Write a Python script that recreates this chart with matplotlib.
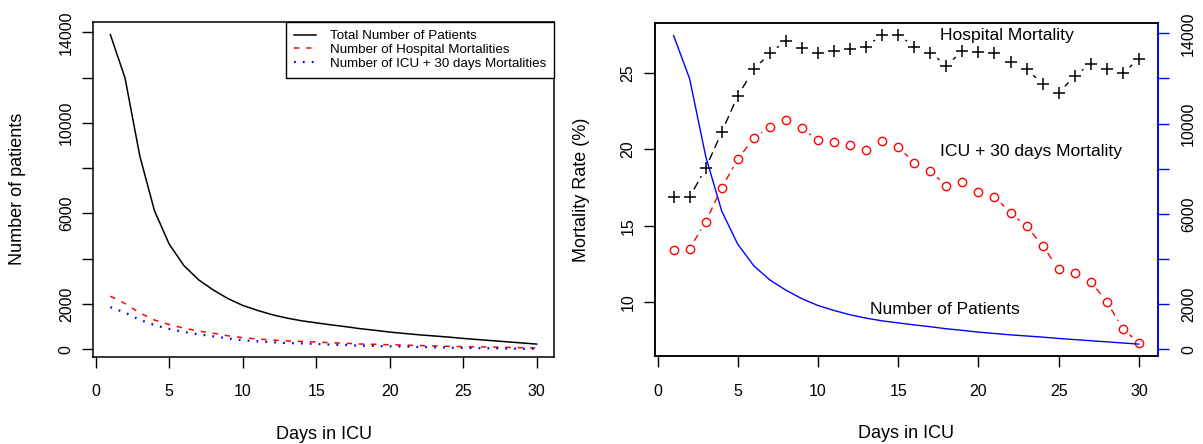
import numpy as np
import matplotlib
matplotlib.use("Agg")
import matplotlib.pyplot as plt

plt.rcParams['font.family'] = ['Liberation Sans', 'DejaVu Sans']

days = list(range(1, 31))
total_patients = [13900, 11980, 8550, 6120, 4650, 3700, 3070, 2620, 2240, 1940,
                  1720, 1530, 1380, 1260, 1170, 1080, 1000, 910, 840, 760,
                  700, 640, 590, 540, 480, 430, 380, 330, 280, 230]
hosp_rate = [16.87, 16.87, 18.77, 21.15, 23.53, 25.26, 26.31, 27.14, 26.64, 26.36,
             26.49, 26.60, 26.75, 27.54, 27.54, 26.75, 26.36, 25.50, 26.47, 26.38,
             26.31, 25.77, 25.28, 24.30, 23.71, 24.83, 25.61, 25.26, 25.00, 25.96]
icu_rate = [13.39, 13.50, 15.25, 17.50, 19.36, 20.76, 21.46, 21.94, 21.39, 20.60,
            20.50, 20.28, 19.99, 20.58, 20.17, 19.12, 18.57, 17.61, 17.87, 17.22,
            16.91, 15.84, 14.96, 13.69, 12.14, 11.88, 11.33, 10.00, 8.25, 7.29]

days = np.array(days)
total = np.array(total_patients, dtype=float)
hosp_counts = total * np.array(hosp_rate) / 100.0
icu_counts = total * np.array(icu_rate) / 100.0

W, H = 1203, 444
DPI = 100
fig = plt.figure(figsize=(W / DPI, H / DPI), dpi=DPI)

def box(l, t, r, b):
    return [l / W, 1 - b / H, (r - l) / W, (b - t) / H]

TICK = 11.5
LAB = 13

# ---------------- Left panel ----------------
ax1 = fig.add_axes(box(93.3, 22, 554, 356.7))
ax1.plot(days, total, color='black', lw=1.1, label='Total Number of Patients')
ax1.plot(days, hosp_counts, color='red', lw=1.1, linestyle=(0, (3.5, 4.5)),
         label='Number of Hospital Mortalities')
ax1.plot(days, icu_counts, color='blue', lw=1.6, linestyle=(0, (0.8, 3.2)),
         label='Number of ICU + 30 days Mortalities')
ax1.set_xlim(-0.16, 31.18)
ax1.set_ylim(-327, 14456)
ax1.set_xticks([0, 5, 10, 15, 20, 25, 30])
ax1.set_yticks(range(0, 14001, 2000))
ax1.set_yticklabels(['0', '2000', '', '6000', '', '10000', '', '14000'])
ax1.tick_params(axis='y', labelrotation=90, length=8, width=1, pad=6, labelsize=TICK)
ax1.tick_params(axis='x', length=8, width=1, pad=12, labelsize=TICK)
for lbl in ax1.get_yticklabels():
    lbl.set_va('center')
ax1.set_xlabel('Days in ICU', fontsize=LAB, labelpad=19)
ax1.set_ylabel('Number of patients', fontsize=LAB, labelpad=24)
for s in ax1.spines.values():
    s.set_linewidth(1.1)
leg = ax1.legend(loc='upper right', borderaxespad=0, fancybox=False,
                 edgecolor='black', framealpha=1, fontsize=9.6,
                 handlelength=1.65, handletextpad=1.05, labelspacing=0.1,
                 borderpad=0.6)
leg.get_frame().set_linewidth(1.0)

# ---------------- Right panel ----------------
ax2 = fig.add_axes(box(655, 22.7, 1157.5, 356.3))
ax2.set_xlim(-0.16, 31.16)
ax2.set_ylim(6.43, 28.32)
ax3 = ax2.twinx()
ax3.set_ylim(-310, 14470)
ax3.plot(days, total, color='blue', lw=1.0)

fig.canvas.draw()

def type_b(ax, x, y, gap_px, **kw):
    pts = ax.transData.transform(np.column_stack([x, y]))
    inv = ax.transData.inverted()
    for p, q in zip(pts[:-1], pts[1:]):
        d = q - p
        L = np.hypot(*d)
        if L <= 2 * gap_px + 1:
            continue
        u = d / L
        a = inv.transform(p + u * gap_px)
        b = inv.transform(q - u * gap_px)
        ax.plot([a[0], b[0]], [a[1], b[1]], **kw)

ax2.plot(days, hosp_rate, linestyle='none', marker='+', color='black',
         markersize=8, markeredgewidth=1.1)
type_b(ax2, days, hosp_rate, 9.0, color='black', lw=1.0, linestyle=(0, (6, 3.5)))
ax2.plot(days, icu_rate, linestyle='none', marker='o', markerfacecolor='none',
         markeredgecolor='red', markersize=6, markeredgewidth=1.0)
type_b(ax2, days, icu_rate, 9.0, color='red', lw=1.0, linestyle=(0, (5, 3.5)))

ax2.text(21.8, 27.45, 'Hospital Mortality', fontsize=12.6, ha='center', va='center')
ax2.text(23.3, 19.86, 'ICU + 30 days Mortality', fontsize=12.6, ha='center', va='center')
ax2.text(17.9, 9.53, 'Number of Patients', fontsize=12.6, ha='center', va='center')

ax2.set_xticks([0, 5, 10, 15, 20, 25, 30])
ax2.set_yticks([10, 15, 20, 25])
ax2.tick_params(axis='y', labelrotation=90, length=8, width=1, pad=6, labelsize=TICK)
ax2.tick_params(axis='x', length=8, width=1, pad=12, labelsize=TICK)
for lbl in ax2.get_yticklabels():
    lbl.set_va('center')
ax2.set_xlabel('Days in ICU', fontsize=LAB, labelpad=19)
ax2.set_ylabel('Mortality Rate (%)', fontsize=LAB, labelpad=22)

ax3.set_yticks(range(0, 14001, 2000))
ax3.set_yticklabels(['0', '2000', '', '6000', '', '10000', '', '14000'])
ax3.tick_params(axis='y', labelrotation=90, length=8, width=1, pad=9,
                labelsize=TICK, color='blue', labelcolor='black')
for lbl in ax3.get_yticklabels():
    lbl.set_va('center')
for s in ax2.spines.values():
    s.set_linewidth(1.1)
for s in ax3.spines.values():
    s.set_linewidth(1.1)
ax3.spines['right'].set_color('blue')

fig.savefig('out.png', dpi=DPI)
